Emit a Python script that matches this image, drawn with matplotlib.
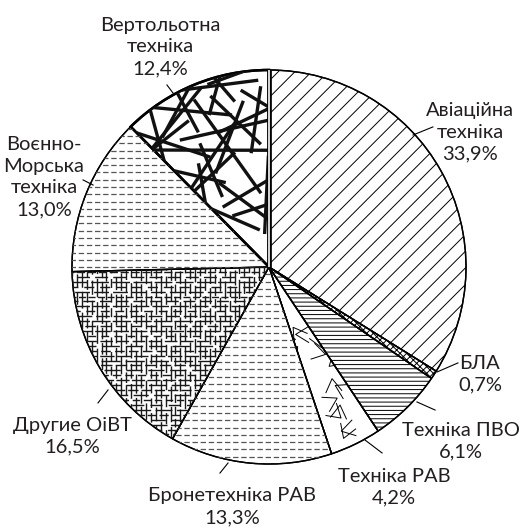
import numpy as np
import matplotlib
matplotlib.use("Agg")
import matplotlib.pyplot as plt
from matplotlib.collections import LineCollection
from matplotlib.patches import Wedge

plt.rcParams['font.family'] = ['Lato', 'DejaVu Sans']
plt.rcParams['hatch.linewidth'] = 0.7

# data
labels = ['Авіаційна\nтехніка', 'БЛА', 'Техніка ПВО', 'Техніка РАВ',
          'Бронетехніка РАВ', 'Другие ОіВТ', 'Воєнно-\nМорська\nтехніка',
          'Вертольотна\nтехніка']
shares = [33.9, 0.7, 6.1, 4.2, 13.3, 16.5, 13.0, 12.4]

# label layout (data units, pie radius = 1)
text_pos = [(1.02, 0.685), (1.071, -0.543), (0.975, -0.883), (0.635, -1.117),
            (-0.188, -1.218), (-1.0, -0.858), (-1.142, 0.457), (-0.553, 1.117)]
leaders = [((0.731, 0.670), (0.832, 0.711)),
           ((0.853, -0.533), (0.959, -0.487)),
           ((0.751, -0.685), (0.843, -0.726)),
           ((0.487, -0.878), (0.574, -0.944)),
           ((-0.208, -0.995), (-0.249, -1.046)),
           ((-0.817, -0.624), (-0.868, -0.690)),
           ((-0.893, 0.416), (-0.944, 0.442)),
           ((-0.487, 0.883), (-0.518, 0.924))]

fig = plt.figure(figsize=(5.19, 5.28), dpi=100)
ax = fig.add_axes([0, 0, 1, 1])

wedges, _ = ax.pie(shares, startangle=90, counterclock=False, radius=1,
                   wedgeprops=dict(facecolor='white', edgecolor='black', linewidth=1.0))
ax.set_aspect('auto')
ax.set_xlim(-269 / 197, 250 / 197)
ax.set_ylim(-261 / 197, 267 / 197)
ax.axis('off')


def clip_add(artist, wedge):
    ax.add_artist(artist)
    artist.set_clip_path(wedge)


def frac(v):
    return v - np.floor(v)


# 0 авіаційна - diagonal
wedges[0].set_hatch('//')
# 1 БЛА - checker
wedges[1].set_hatch('xxxxx')
# 2 ПВО - horizontal lines
wedges[2].set_hatch('----')

# 3 РАВ - chevrons
w = wedges[3]
segs = []
for k in range(14):
    r = 0.3 + 0.68 * frac(k * 0.618 + 0.1)
    th = np.radians(w.theta1 + (w.theta2 - w.theta1) * frac(k * 0.377 + 0.2))
    cx, cy = r * np.cos(th), r * np.sin(th)
    a = frac(k * 0.731) * 2 * np.pi
    s = 0.08
    p0 = (cx + s * np.cos(a + 0.55), cy + s * np.sin(a + 0.55))
    p2 = (cx + s * np.cos(a - 0.55), cy + s * np.sin(a - 0.55))
    segs.append([p0, (cx, cy), p2])
clip_add(LineCollection(segs, colors='black', linewidths=0.7), w)

# 4 and 6 - dashed grey horizontal lines
for i in (4, 6):
    ys = np.arange(-1.0, 1.0, 0.037)
    segs = [[(-1.05, y), (1.05, y)] for y in ys]
    lc = LineCollection(segs, colors='#555555', linewidths=0.9,
                        linestyles=[(0, (4.3, 2.2))])
    clip_add(lc, wedges[i])

# 5 Другие - irregular dense grid
w = wedges[5]
hs, vs, hls, vls = [], [], [], []
for j, v in enumerate(np.arange(-1.0, 1.0, 0.025)):
    hs.append([(-1.05, v), (1.05, v)])
    vs.append([(v, -1.05), (v, 1.05)])
    on = 5 + 9 * frac(j * 0.618)
    off = 1.5 + 3 * frac(j * 0.414)
    hls.append((10 * frac(j * 0.27), (on, off)))
    on2 = 6 + 8 * frac(j * 0.382)
    off2 = 1.5 + 3 * frac(j * 0.732)
    vls.append((10 * frac(j * 0.53), (on2, off2)))
clip_add(LineCollection(hs, colors='#1a1a1a', linewidths=1.0, linestyles=hls), w)
clip_add(LineCollection(vs, colors='#1a1a1a', linewidths=1.0, linestyles=vls), w)

# 7 Вертольотна - thick scattered strokes
w = wedges[7]
segs = []
for k in range(30):
    r = 0.1 + 0.92 * np.sqrt(frac(k * 0.618 + 0.05))
    th = np.radians(w.theta1 - 4 + (w.theta2 - w.theta1 + 8) * frac(k * 0.7549 + 0.3))
    cx, cy = r * np.cos(th), r * np.sin(th)
    a = frac(k * 0.4142 + 0.1) * np.pi
    L = 0.13 + 0.17 * frac(k * 0.5698)
    segs.append([(cx - L * np.cos(a), cy - L * np.sin(a)),
                 (cx + L * np.cos(a), cy + L * np.sin(a))])
clip_add(LineCollection(segs, colors='#111111', linewidths=2.4), w)
w.set_linewidth(1.8)

# redraw outlines on top
for wd in wedges:
    ax.add_patch(Wedge(wd.center, wd.r, wd.theta1, wd.theta2,
                       facecolor='none', edgecolor='black',
                       linewidth=wd.get_linewidth()))

# double line at the start boundary
top = np.radians(90)
ax.plot([0, np.cos(top)], [0, np.sin(top)], color='black', lw=3.4, solid_capstyle='butt')
ax.plot([0, np.cos(top)], [0, np.sin(top)], color='white', lw=1.2, solid_capstyle='butt')

for lab, val, (tx, ty), (p, q) in zip(labels, shares, text_pos, leaders):
    txt = lab + '\n' + f'{val:.1f}'.replace('.', ',') + '%'
    ax.text(tx, ty, txt, ha='center', va='center', fontsize=14.5,
            linespacing=1.35, color='#231f20')
    ax.plot([p[0], q[0]], [p[1], q[1]], color='black', lw=0.8)

fig.savefig('out.png', dpi=100)
